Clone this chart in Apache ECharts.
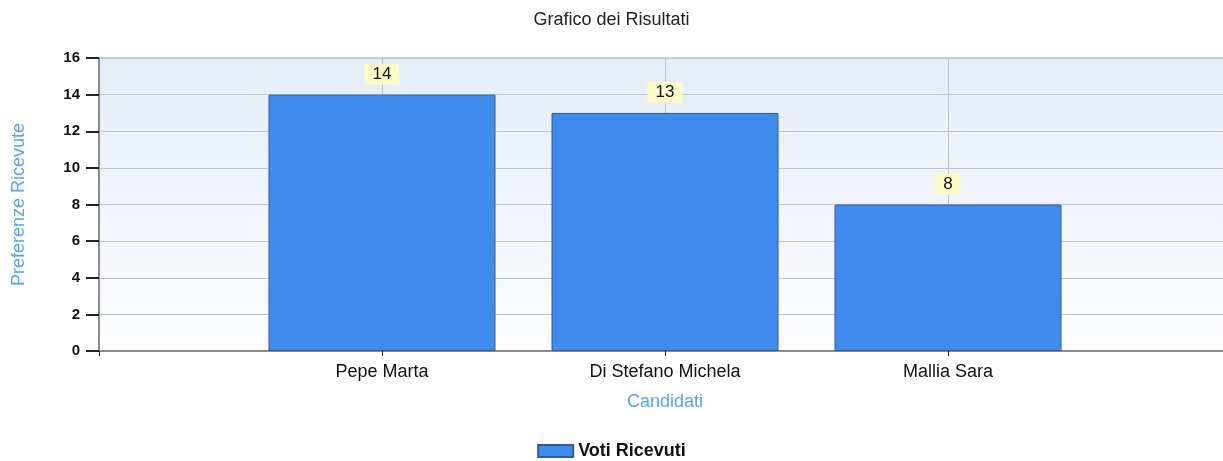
<!DOCTYPE html>
<html><head><meta charset="utf-8">
<script src="https://cdn.jsdelivr.net/npm/echarts@6/dist/echarts.min.js"></script>
<style>html,body{margin:0;padding:0;background:#fff}#c{width:1223px;height:461px}</style>
</head><body><div id="c"></div>
<script>
const categories = ['', 'Pepe Marta', 'Di Stefano Michela', 'Mallia Sara', ''];
const votes = [null, 14, 13, 8, null];
const seriesName = 'Voti Ricevuti';
const yTicks = {min: 0, max: 16, interval: 2};

const chart = echarts.init(document.getElementById('c'));
const font = 'Liberation Sans, Arial, sans-serif';
chart.setOption({
  animation: false,
  textStyle: {fontFamily: font},
  title: {text: 'Grafico dei Risultati', left: 'center', top: 6,
    textStyle: {fontSize: 18, fontWeight: 'normal', color: '#222', fontFamily: font}},
  legend: {top: 437, left: 'center', itemWidth: 35, itemHeight: 12, itemGap: 6,
    icon: 'rect',
    data: [seriesName],
    textStyle: {fontSize: 18, fontWeight: 'bold', color: '#111', fontFamily: font}},
  grid: {left: 99, top: 58, width: 1132, height: 293, show: true,
    outerBoundsMode: 'none', containLabel: false,
    borderColor: '#a8a8a8', borderWidth: 1,
    backgroundColor: new echarts.graphic.LinearGradient(0, 0, 0, 1, [
      {offset: 0, color: '#e5ecf7'}, {offset: 1, color: '#fdfdfe'}])},
  xAxis: {type: 'category', data: categories, boundaryGap: false,
    name: 'Candidati', nameLocation: 'middle', nameGap: 42,
    nameTextStyle: {color: '#55a2ff', fontSize: 18, fontFamily: font},
    axisLine: {lineStyle: {color: '#8c8c8c', width: 2}},
    axisTick: {show: true, length: 5, lineStyle: {color: '#222'}},
    axisLabel: {color: '#111', fontSize: 18, margin: 12, fontFamily: font},
    splitLine: {show: true, lineStyle: {color: '#c4c4c4', width: 1}}},
  yAxis: {type: 'value', min: yTicks.min, max: yTicks.max, interval: yTicks.interval,
    name: 'Preferenze Ricevute', nameLocation: 'middle', nameGap: 71,
    nameTextStyle: {color: '#55a2ff', fontSize: 18, fontFamily: font},
    axisLine: {show: true, lineStyle: {color: '#8c8c8c', width: 2}},
    axisTick: {show: true, length: 13, lineStyle: {color: '#222', width: 2}},
    axisLabel: {color: '#111', fontSize: 15, fontWeight: 'bold', margin: 19, fontFamily: font},
    splitLine: {show: true, lineStyle: {color: '#c4c4c4', width: 1}}},
  series: [{
    name: seriesName, type: 'bar', data: votes, barWidth: 227,
    itemStyle: {color: '#3f8bee', borderColor: '#2e5c9a', borderWidth: 1},
    label: {show: true, position: 'top', distance: 10, color: '#111', fontSize: 17,
      backgroundColor: '#fbfbc8', padding: [2, 8, 2, 8], fontFamily: font}
  }]
});
</script></body></html>
